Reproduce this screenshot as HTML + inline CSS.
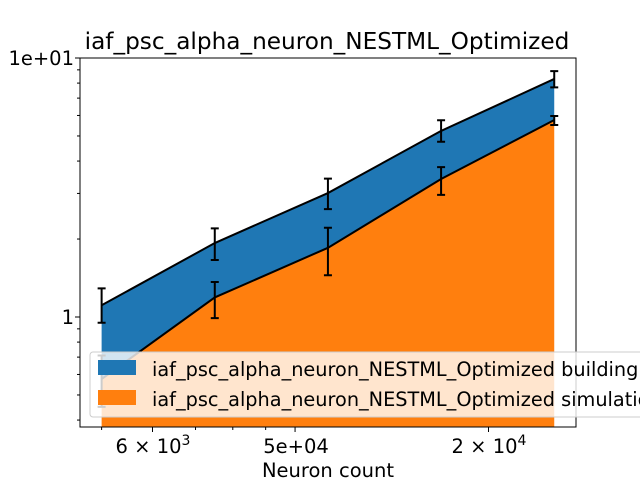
<!DOCTYPE html>
<html><head><meta charset="utf-8"><style>
body{margin:0;background:#fff;}
svg{display:block;font-family:"DejaVu Sans","Liberation Sans",sans-serif;}
</style></head><body>
<svg id="chart" width="640" height="480">
<rect width="640" height="480" fill="#fff"/>
<g id="plot"></g>
<text x="327" y="49" font-size="23.2" text-anchor="middle">iaf_psc_alpha_neuron_NESTML_Optimized</text>
<text x="328" y="477" font-size="19.5" text-anchor="middle">Neuron count</text>
<text x="74" y="324" font-size="19.5" text-anchor="end">1</text>
<text x="74" y="65" font-size="19.5" text-anchor="end">1e+01</text>
<text x="153" y="453" font-size="19.5" text-anchor="middle">6 × 10<tspan dy="-8" font-size="14">3</tspan></text>
<text x="296" y="453" font-size="19.5" text-anchor="middle">5e+04</text>
<text x="489" y="453" font-size="19.5" text-anchor="middle">2 × 10<tspan dy="-8" font-size="14">4</tspan></text>
<g id="legend">
<rect x="90" y="352" width="580" height="65" rx="3" fill="rgba(255,255,255,0.8)" stroke="#ccc"/>
<rect x="98" y="360" width="38" height="15" fill="#1f77b4"/>
<text x="152" y="376" font-size="19.3">iaf_psc_alpha_neuron_NESTML_Optimized building</text>
<rect x="98" y="390" width="38" height="15" fill="#ff7f0e"/>
<text x="152" y="406" font-size="19.3">iaf_psc_alpha_neuron_NESTML_Optimized simulation</text>
</g>
</svg>
<script>
const neuronCounts=[5000,7500,11250,16875,25312];
const totalTime=[1.11,1.93,3.01,5.23,8.3];
const totalErrLo=[0.95,1.66,2.61,4.75,7.7];
const totalErrHi=[1.29,2.20,3.42,5.75,8.9];
const simTime=[0.576,1.19,1.85,3.41,5.76];
const simErrLo=[0.45,0.99,1.45,2.96,5.51];
const simErrHi=[0.71,1.365,2.21,3.79,5.97];
const yTicks=[1,10];

const L=80,R=576,T=58,B=427;
function xs(v){return 152.5+642.6*Math.log10(v/6000);}
function ys(v){return 317-259*Math.log10(v);}
const NS="http://www.w3.org/2000/svg";
const plotG=document.getElementById('plot');
function mk(tag,attrs){const e=document.createElementNS(NS,tag);for(const k in attrs)e.setAttribute(k,attrs[k]);plotG.appendChild(e);return e;}

const topPts=neuronCounts.map((x,i)=>xs(x)+','+ys(totalTime[i]));
const botPts=neuronCounts.map((x,i)=>xs(x)+','+ys(simTime[i]));
const a=mk('polygon',{points:topPts.concat(botPts.slice().reverse()).join(' '),fill:'#1f77b4'});


const b=mk('polygon',{points:botPts.join(' ')+' '+xs(neuronCounts[neuronCounts.length-1])+','+B+' '+xs(neuronCounts[0])+','+B,fill:'#ff7f0e'});


const l1=mk('polyline',{points:topPts.join(' '),fill:'none',stroke:'#000','stroke-width':2});


const l2=mk('polyline',{points:botPts.join(' '),fill:'none',stroke:'#000','stroke-width':2});


function err(x,lo,hi,name){
 const X=xs(x),y1=ys(lo),y2=ys(hi);
 const p=mk('path',{d:`M${X},${y1}V${y2}M${X-4},${y1}H${X+4}M${X-4},${y2}H${X+4}`,stroke:'#000','stroke-width':2,fill:'none'});
 
 
}
neuronCounts.forEach((x,i)=>{err(x,totalErrLo[i],totalErrHi[i],'errorbar-total');err(x,simErrLo[i],simErrHi[i],'errorbar-simulation');});
const fr=mk('rect',{x:L,y:T,width:R-L,height:B-T,fill:'none',stroke:'#000','stroke-width':1});


for(let d=-1;d<=1;d++){for(let m=1;m<10;m++){const v=m*Math.pow(10,d);const y=ys(v);if(y<T-0.5||y>B)continue;const major=(m===1);
 const t=mk('line',{x1:L-(major?5:3),x2:L,y1:y,y2:y,stroke:'#000','stroke-width':1});
 
 }}
[5000,6000,7000,8000,9000,10000,20000].forEach(v=>{const x=xs(v);const major=(v===6000||v===10000||v===20000);
 const t=mk('line',{x1:x,x2:x,y1:B,y2:B+(major?5:3),stroke:'#000','stroke-width':1});
 
 });
document.getElementById('chart').appendChild(document.getElementById('legend'));
</script>
</body></html>
